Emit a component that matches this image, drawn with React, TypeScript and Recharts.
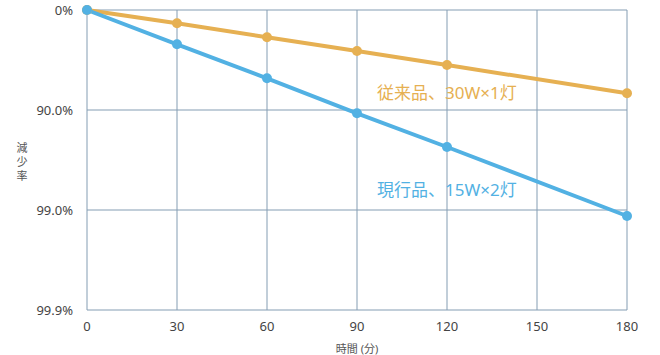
import React from 'react';
import { LineChart, Line, XAxis, YAxis, CartesianGrid } from 'recharts';

// 経過時間 (分)
const minutes = [0, 30, 60, 90, 120, 180];
// log10 reduction (0 = 0%, 1 = 90.0%, 2 = 99.0%, 3 = 99.9%)
const conventional = [0, 0.133, 0.273, 0.41, 0.55, 0.833];
const current = [0, 0.343, 0.683, 1.033, 1.37, 2.06];

const xTicks = [0, 30, 60, 90, 120, 150, 180];
const yTicks = [0, 1, 2, 3];
const yTickLabels = ['0%', '90.0%', '99.0%', '99.9%'];

const ORANGE = '#e6b052';
const BLUE = '#52b1e3';
const GRID = '#849db3';
const FONT = '"Noto Sans", "Noto Sans CJK JP", sans-serif';

const data = minutes.map((m, i) => ({ m, conventional: conventional[i], current: current[i] }));

// vertical axis title, one character per line
const YLabel = () => (
  <g>
    {'減少率'.split('').map((c, i) => (
      <text key={i} x={22} y={152 + i * 14} textAnchor="middle" fontSize={11} fill="#555" fontFamily={FONT}>
        {c}
      </text>
    ))}
  </g>
);

const App: React.FC = () => {
  return (
    <div style={{ position: 'absolute', left: 0, top: 0, width: 660, height: 355, fontFamily: FONT }}>
      <LineChart width={660} height={355} data={data} margin={{ top: 10, right: 33, left: 0, bottom: 0 }}>
        <CartesianGrid stroke={GRID} strokeWidth={1} />
        <XAxis
          dataKey="m"
          type="number"
          domain={[0, 180]}
          ticks={xTicks}
          axisLine={false}
          tickLine={false}
          height={45}
          tick={{ fontSize: 13, fill: '#444', fontFamily: FONT }}
          tickMargin={6}
          label={{ value: '時間 (分)', position: 'insideBottom', offset: 2, fontSize: 11, fill: '#555', fontFamily: FONT }}
        />
        <YAxis
          type="number"
          domain={[0, 3]}
          reversed
          ticks={yTicks}
          tickFormatter={(v: number) => yTickLabels[yTicks.indexOf(v)]}
          axisLine={false}
          tickLine={false}
          width={87}
          tick={{ fontSize: 13, fill: '#444', fontFamily: FONT }}
          tickMargin={8}
          label={<YLabel />}
        />
        <Line
          dataKey="conventional"
          stroke={ORANGE}
          strokeWidth={4}
          dot={{ r: 5, fill: ORANGE, stroke: ORANGE, strokeWidth: 0 }}
          isAnimationActive={false}
        />
        <Line
          dataKey="current"
          stroke={BLUE}
          strokeWidth={4}
          dot={{ r: 5, fill: BLUE, stroke: BLUE, strokeWidth: 0 }}
          isAnimationActive={false}
        />
      </LineChart>
      <div style={{ position: 'absolute', left: 377, top: 81, color: ORANGE, fontSize: 17, whiteSpace: 'nowrap', lineHeight: '24px' }}>
        従来品、30W×1灯
      </div>
      <div style={{ position: 'absolute', left: 377, top: 178, color: BLUE, fontSize: 17, whiteSpace: 'nowrap', lineHeight: '24px' }}>
        現行品、15W×2灯
      </div>
    </div>
  );
};

export default App;
